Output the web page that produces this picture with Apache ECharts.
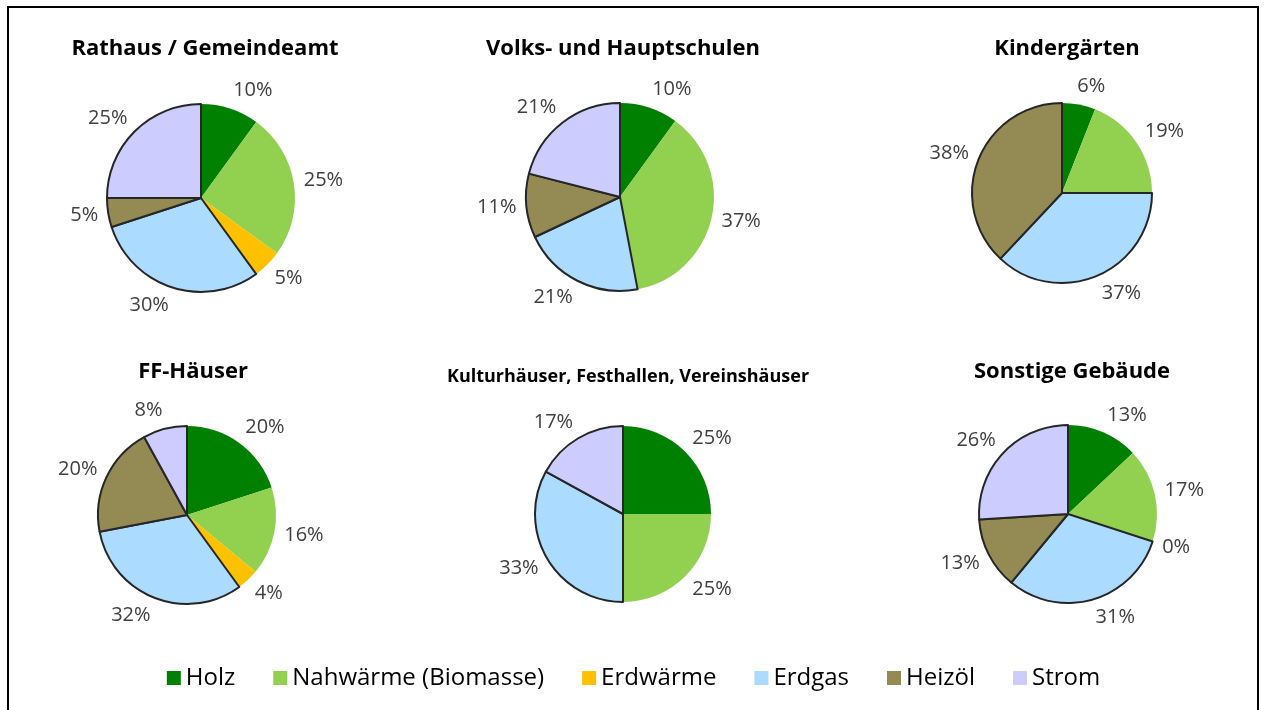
<!DOCTYPE html>
<html>
<head>
<meta charset="utf-8">
<script src="https://cdn.jsdelivr.net/npm/echarts@6/dist/echarts.min.js"></script>
<style>
  html, body { margin: 0; padding: 0; background: #fff; }
  #main { width: 1267px; height: 710px; }
</style>
</head>
<body>
<div id="main"></div>
<script>
// Energieträger (Reihenfolge im Uhrzeigersinn ab 12 Uhr)
var carriers = ['Holz', 'Nahwärme (Biomasse)', 'Erdwärme', 'Erdgas', 'Heizöl', 'Strom'];
var colors = ['#008000', '#92d050', '#ffc000', '#abdbff', '#948a54', '#ccccff'];

// Anteile in % je Gebäudetyp (null = nicht vorhanden)
var titles = ['Rathaus / Gemeindeamt', 'Volks- und Hauptschulen', 'Kindergärten',
              'FF-Häuser', 'Kulturhäuser, Festhallen, Vereinshäuser', 'Sonstige Gebäude'];
var rathaus   = [10, 25, 5, 30, 5, 25];
var schulen   = [10, 37, null, 21, 11, 21];
var kinder    = [6, 19, null, 37, 38, null];
var ffHaeuser = [20, 16, 4, 32, 20, 8];
var kultur    = [25, 25, null, 33, null, 17];
var sonstige  = [13, 17, 0, 31, 13, 26];
var shares = [rathaus, schulen, kinder, ffHaeuser, kultur, sonstige];

// Layout
var centers = [[201, 198], [620, 197], [1062, 193], [187, 515], [623, 514], [1068, 514]];
var radii = [94, 94, 90, 89, 88, 89];
var titlePos = [[200, 33], [618, 33], [1062, 33], [188, 356], [623, 363], [1067, 356]];
var titleSize = [22, 22, 22, 22, 18, 22];
var bordered = [false, false, false, true, true, true];
var labelGap = 10;

var myChart = echarts.init(document.getElementById('main'));

var title = [], series = [], midAngles = [];
for (var i = 0; i < shares.length; i++) {
    title.push({
        text: titles[i],
        left: titlePos[i][0],
        top: titlePos[i][1],
        textAlign: 'center',
        textStyle: {
            fontFamily: 'Open Sans',
            fontWeight: 'bold',
            fontSize: titleSize[i],
            color: '#000'
        }
    });
    var data = [], mids = [], total = 0, acc = 0;
    for (var j = 0; j < carriers.length; j++) total += shares[i][j] || 0;
    for (var j = 0; j < carriers.length; j++) {
        if (shares[i][j] === null) continue;
        mids.push((acc + shares[i][j] / 2) / total * 2 * Math.PI);
        acc += shares[i][j];
        data.push({
            name: carriers[j],
            value: shares[i][j],
            itemStyle: {
                color: colors[j],
                borderColor: bordered[j] ? '#262626' : colors[j],
                borderWidth: bordered[j] ? 2 : 0
            }
        });
    }
    midAngles.push(mids);
    series.push({
        type: 'pie',
        center: centers[i],
        radius: radii[i],
        startAngle: 90,
        clockwise: true,
        animation: false,
        label: {
            show: true,
            position: 'outside',
            formatter: function (p) { return p.value + '%'; },
            fontFamily: 'Open Sans',
            fontSize: 20,
            color: '#404040'
        },
        labelLine: { show: false, length: 10, length2: 0 },
        // label box sits just outside the slice, like Excel's "outside end"
        labelLayout: (function (si) {
            return function (p) {
                var a = midAngles[si][p.dataIndex];
                var s = Math.sin(a), c = Math.cos(a);
                var d = radii[si] + labelGap;
                var hw = p.labelRect.width / 2, hh = p.labelRect.height / 2 - 1;
                var fx = Math.max(-1, Math.min(1, s * 4));
                return {
                    x: centers[si][0] + d * s + hw * fx,
                    y: centers[si][1] - d * c - hh * c,
                    align: 'center',
                    verticalAlign: 'middle'
                };
            };
        })(i),
        emphasis: { disabled: true },
        data: data
    });
}

option = {
    backgroundColor: '#fff',
    title: title,
    legend: {
        data: carriers,
        top: 661,
        left: 'center',
        icon: 'rect',
        itemWidth: 14,
        itemHeight: 14,
        itemGap: 38,
        itemStyle: { borderWidth: 0 },
        textStyle: {
            fontFamily: 'Open Sans',
            fontSize: 24,
            color: '#000'
        }
    },
    color: colors,
    graphic: [{
        type: 'rect',
        shape: { x: 8, y: 7, width: 1250, height: 720 },
        style: { fill: 'none', stroke: '#000', lineWidth: 2 },
        silent: true
    }],
    series: series
};

myChart.setOption(option);
window.addEventListener("resize", function () {
    myChart.resize();
});
</script>
</body>
</html>
